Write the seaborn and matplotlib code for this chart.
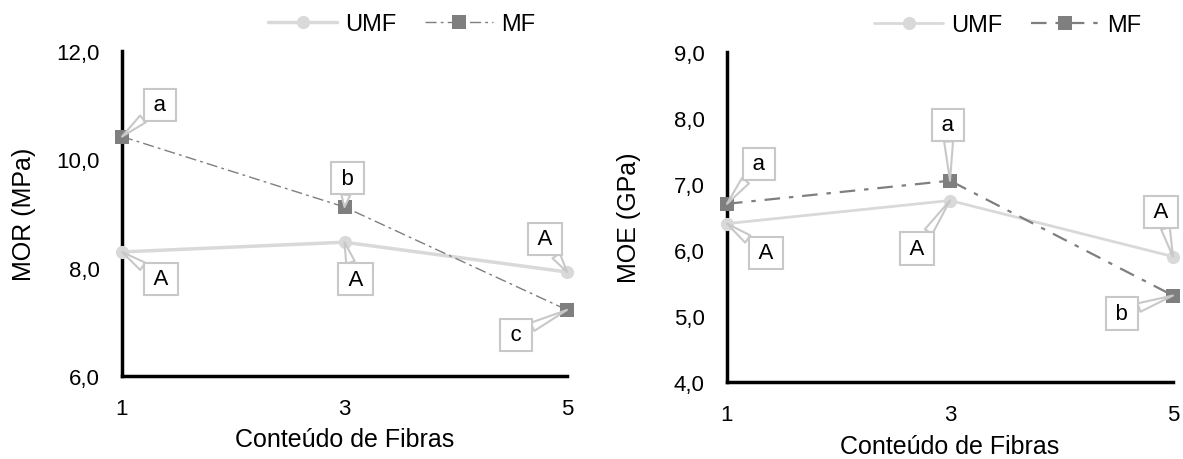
import matplotlib
matplotlib.use("Agg")
import matplotlib.pyplot as plt
import seaborn as sns
import pandas as pd

sns.set_theme(style="white")
plt.rcParams["font.family"] = ["Liberation Sans", "DejaVu Sans"]
plt.rcParams["text.color"] = "black"
plt.rcParams["axes.labelcolor"] = "black"

# Fibre content levels
fibras = [1, 3, 5]

# Modulus of rupture (MPa)
mor_umf = [8.29, 8.47, 7.92]
mor_mf = [10.42, 9.12, 7.22]
mor_umf_letters = ["A", "A", "A"]
mor_mf_letters = ["a", "b", "c"]

# Modulus of elasticity (GPa)
moe_umf = [6.40, 6.75, 5.90]
moe_mf = [6.70, 7.05, 5.31]
moe_umf_letters = ["A", "A", "A"]
moe_mf_letters = ["a", "a", "b"]

UMF_COLOR = "#d9d9d9"
MF_COLOR = "#7f7f7f"
BOX_EDGE = "#c8c8c8"
THIN = "\u2009"

fig = plt.figure(figsize=(11.83, 4.60), dpi=100)
ax1 = fig.add_axes([122 / 1183, 1 - 377 / 460, 445 / 1183, 325 / 460])
ax2 = fig.add_axes([727 / 1183, 1 - 383 / 460, 446 / 1183, 330 / 460])


def draw_panel(ax, umf, mf, ylim, yticks, ylabel, umf_lw, mf_lw, mf_dash):
    df_u = pd.DataFrame({"x": fibras, "y": umf})
    df_m = pd.DataFrame({"x": fibras, "y": mf})
    sns.lineplot(data=df_u, x="x", y="y", ax=ax, color=UMF_COLOR, lw=umf_lw,
                 marker="o", markersize=9.5, markeredgewidth=0,
                 label="UMF", clip_on=False, zorder=3)
    sns.lineplot(data=df_m, x="x", y="y", ax=ax, color=MF_COLOR, lw=mf_lw,
                 marker="s", markersize=10, markeredgewidth=0,
                 label="MF", clip_on=False, zorder=4)
    ax.lines[1].set_dashes(mf_dash)
    ax.set_xlim(1, 5)
    ax.set_ylim(*ylim)
    ax.set_xticks(fibras)
    ax.set_xticklabels([str(v) for v in fibras])
    ax.set_yticks(yticks)
    ax.set_yticklabels([f"{v:.1f}".replace(".", ",") for v in yticks])
    for s in ["top", "right"]:
        ax.spines[s].set_visible(False)
    for s in ["left", "bottom"]:
        ax.spines[s].set_color("black")
        ax.spines[s].set_linewidth(2.5)
    ax.tick_params(axis="both", direction="in", length=5, width=2.5,
                   colors="black", labelcolor="black", labelsize=16)
    ax.tick_params(axis="x", pad=16)
    ax.tick_params(axis="y", pad=16)
    ax.set_xlabel("Conteúdo de Fibras", fontsize=18, va="center", color="black")
    ax.set_ylabel(ylabel, fontsize=18, va="center", color="black")
    ax.xaxis.set_label_coords(0.5, -0.193)
    ax.yaxis.set_label_coords(-0.22, 0.5)


def callout(ax, x, y, text, dx, dy):
    ax.annotate(THIN + text + THIN, xy=(x, y), xytext=(dx, dy),
                textcoords="offset pixels",
                ha="center", va="center", fontsize=16, color="black",
                bbox=dict(boxstyle="square,pad=0.25", fc="white",
                          ec=BOX_EDGE, lw=1.5),
                arrowprops=dict(arrowstyle="wedge,tail_width=0.4,shrink_factor=0.5",
                                fc="white", ec=BOX_EDGE, lw=1.5,
                                shrinkA=0, shrinkB=0),
                zorder=6, annotation_clip=False)


draw_panel(ax1, mor_umf, mor_mf, (6, 12), [6, 8, 10, 12], "MOR (MPa)",
           2.5, 1.0, (8, 3, 2, 3))
draw_panel(ax2, moe_umf, moe_mf, (4, 9), [4, 5, 6, 7, 8, 9], "MOE (GPa)",
           2.0, 1.6, (7, 4, 2, 4))

# Letter callouts, offsets in pixels from the marked point (x right, y up)
mor_mf_off = [(38, 32), (3, 29), (-51, -25)]
mor_umf_off = [(39, -27), (11, -37), (-22, 33)]
moe_mf_off = [(32, 40), (-2, 56), (-51, -18)]
moe_umf_off = [(39, -29), (-33, -48), (-12, 45)]

panels = [
    (ax1, [(mor_mf, mor_mf_letters, mor_mf_off),
           (mor_umf, mor_umf_letters, mor_umf_off)]),
    (ax2, [(moe_mf, moe_mf_letters, moe_mf_off),
           (moe_umf, moe_umf_letters, moe_umf_off)]),
]
for ax, groups in panels:
    for ys, letters, offs in groups:
        for xi, yi, t, off in zip(fibras, ys, letters, offs):
            callout(ax, xi, yi, t, off[0], off[1])

for ax, anchor in [(ax1, (0.629, 1.083)), (ax2, (0.63, 1.082))]:
    leg = ax.legend(loc="center", bbox_to_anchor=anchor, ncol=2, frameon=False,
                    fontsize=17, handlelength=2.9, columnspacing=1.2,
                    handletextpad=0.35, borderpad=0, borderaxespad=0)
    for t in leg.get_texts():
        t.set_color("black")

fig.savefig("out.png", dpi=100, facecolor="white")
